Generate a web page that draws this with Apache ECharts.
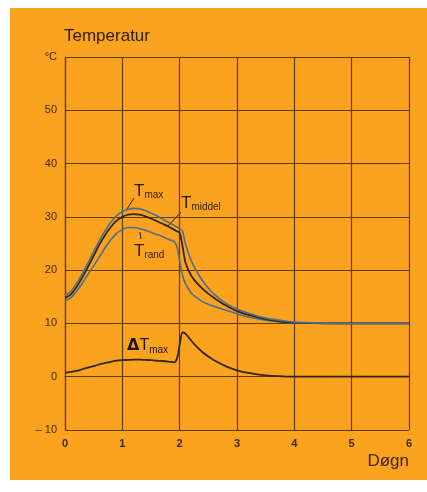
<!DOCTYPE html>
<html>
<head>
<meta charset="utf-8">
<script src="https://cdn.jsdelivr.net/npm/echarts@6/dist/echarts.min.js"></script>
<style>
  html, body { margin: 0; padding: 0; background: #ffffff; }
  #main { width: 427px; height: 492px; }
</style>
</head>
<body>
<div id="main"></div>
<script>
// days (Døgn)
var days    = [0, 0.1, 0.2, 0.3, 0.4, 0.5, 0.6, 0.7, 0.8, 0.9, 1.0, 1.1, 1.2, 1.3, 1.4, 1.5, 1.6, 1.7, 1.8, 1.9, 1.95, 2.0, 2.05, 2.1, 2.2, 2.3, 2.4, 2.5, 2.6, 2.8, 3.0, 3.2, 3.5, 3.8, 4.0, 4.5, 5.0, 5.5, 6.0];
// temperatures (°C)
var tMax    = [15.3, 16.0, 17.5, 19.3, 21.3, 23.5, 25.6, 27.4, 29.0, 30.2, 31.0, 31.4, 31.6, 31.5, 31.2, 30.7, 30.2, 29.6, 29.0, 28.4, 28.1, 27.8, 27.3, 25.0, 21.8, 19.7, 18.0, 16.6, 15.5, 13.8, 12.7, 11.9, 11.0, 10.5, 10.25, 10.05, 10.0, 10.0, 10.0];
var tMiddel = [14.8, 15.4, 16.8, 18.6, 20.6, 22.7, 24.8, 26.6, 28.1, 29.3, 30.0, 30.4, 30.5, 30.4, 30.1, 29.7, 29.2, 28.7, 28.2, 27.6, 27.3, 27.0, 24.5, 21.5, 19.0, 17.6, 16.5, 15.6, 14.8, 13.4, 12.3, 11.6, 10.8, 10.3, 10.15, 10.03, 10.0, 10.0, 10.0];
var tRand   = [14.2, 14.8, 16.0, 17.5, 19.2, 20.8, 22.5, 24.2, 25.7, 26.9, 27.6, 28.0, 28.0, 27.8, 27.5, 27.1, 26.7, 26.3, 25.8, 25.4, 24.5, 21.8, 19.0, 17.5, 15.7, 14.8, 14.1, 13.6, 13.2, 12.5, 11.8, 11.2, 10.6, 10.25, 10.1, 10.02, 10.0, 10.0, 10.0];
var dTMax   = [0.7, 0.9, 1.1, 1.4, 1.7, 2.0, 2.3, 2.6, 2.8, 3.0, 3.1, 3.15, 3.2, 3.2, 3.15, 3.1, 3.0, 2.95, 2.85, 2.7, 3.3, 6.0, 8.3, 8.1, 6.8, 5.6, 4.6, 3.8, 3.1, 2.0, 1.2, 0.7, 0.25, 0.07, 0.0, 0.0, 0.0, 0.0, 0.0];
var xTicks  = [0, 1, 2, 3, 4, 5, 6];

function pairs(ys) {
  return days.map(function (d, i) { return [d, ys[i]]; });
}

var dark = '#33261a';
var blue = '#4d6e8c';
var grid = '#5e3c12';
var txt  = '#3a2a16';

var chart = echarts.init(document.getElementById('main'), null, { renderer: 'canvas' });
var option = {
  backgroundColor: '#ffffff',
  animation: false,
  grid: { left: 65, right: 18, top: 57, bottom: 62, show: false },
  xAxis: {
    type: 'value', min: 0, max: 6, interval: 1,
    axisLine: { show: true, lineStyle: { color: grid, width: 1.2 } },
    axisTick: { show: false },
    splitLine: { show: true, lineStyle: { color: grid, width: 1.2 } },
    axisLabel: {
      color: txt, fontSize: 11, fontFamily: 'Liberation Sans', fontWeight: 'bold', margin: 8,
      formatter: function (v) { return xTicks.indexOf(v) >= 0 ? String(v) : ''; }
    }
  },
  yAxis: {
    type: 'value', min: -10, max: 60, interval: 10,
    axisLine: { show: true, lineStyle: { color: grid, width: 1.2 } },
    axisTick: { show: false },
    splitLine: { show: true, lineStyle: { color: grid, width: 1.2 } },
    axisLabel: {
      color: txt, fontSize: 11, fontFamily: 'Liberation Sans', margin: 8,
      formatter: function (v) {
        if (v === 60) return '°C';
        if (v === -10) return '– 10';
        return String(v);
      }
    }
  },
  series: [
    { name: 'Trand', type: 'line', data: pairs(tRand), smooth: 0.3, showSymbol: false,
      lineStyle: { color: blue, width: 1.6 } },
    { name: 'Tmiddel', type: 'line', data: pairs(tMiddel), smooth: 0.3, showSymbol: false,
      lineStyle: { color: dark, width: 1.8 } },
    { name: 'Tmax', type: 'line', data: pairs(tMax), smooth: 0.3, showSymbol: false,
      lineStyle: { color: blue, width: 1.6 } },
    { name: 'ΔTmax', type: 'line', data: pairs(dTMax), smooth: 0.3, showSymbol: false,
      lineStyle: { color: dark, width: 1.8 } }
  ],
  graphic: [
    { type: 'rect', z: -10, silent: true, shape: { x: 10, y: 8, width: 417, height: 472 },
      style: { fill: '#fba21e' } },
    { type: 'text', left: 64, top: 28,
      style: { text: 'Temperatur', fill: '#2a1e10', font: '17px "Liberation Sans"' } },
    { type: 'text', right: 18, top: 453,
      style: { text: 'Døgn', fill: txt, font: '17px "Liberation Sans"' } },
    // curve labels
    { type: 'text', left: 134, top: 183,
      style: { rich: { t: { fontSize: 17, fontFamily: 'Liberation Sans', fill: '#2a1e10' },
                       s: { fontSize: 10, fontFamily: 'Liberation Sans', fill: '#2a1e10', padding: [8, 0, 0, 0] } },
               text: '{t|T}{s|max}' } },
    { type: 'text', left: 181, top: 195,
      style: { rich: { t: { fontSize: 17, fontFamily: 'Liberation Sans', fill: '#2a1e10' },
                       s: { fontSize: 10, fontFamily: 'Liberation Sans', fill: '#2a1e10', padding: [8, 0, 0, 0] } },
               text: '{t|T}{s|middel}' } },
    { type: 'text', left: 134, top: 243,
      style: { rich: { t: { fontSize: 17, fontFamily: 'Liberation Sans', fill: '#2a1e10' },
                       s: { fontSize: 10, fontFamily: 'Liberation Sans', fill: '#2a1e10', padding: [8, 0, 0, 0] } },
               text: '{t|T}{s|rand}' } },
    { type: 'text', left: 127, top: 338,
      style: { rich: { d: { fontSize: 16, fontFamily: 'DejaVu Sans', fontWeight: 'bold', fill: '#1e160c' },
                       t: { fontSize: 16, fontFamily: 'Liberation Sans', fill: '#1e160c' },
                       s: { fontSize: 10, fontFamily: 'Liberation Sans', fill: '#1e160c', padding: [8, 0, 0, 0] } },
               text: '{d|Δ}{t|T}{s|max}' } },
    // leader lines
    { type: 'line', shape: { x1: 134, y1: 198, x2: 127, y2: 209 }, style: { stroke: '#2a1e10', lineWidth: 1 } },
    { type: 'line', shape: { x1: 181, y1: 212, x2: 168, y2: 226 }, style: { stroke: '#2a1e10', lineWidth: 1 } },
    { type: 'line', shape: { x1: 141, y1: 239, x2: 140, y2: 232 }, style: { stroke: '#2a1e10', lineWidth: 1 } }
  ]
};
chart.setOption(option);
</script>
</body>
</html>
